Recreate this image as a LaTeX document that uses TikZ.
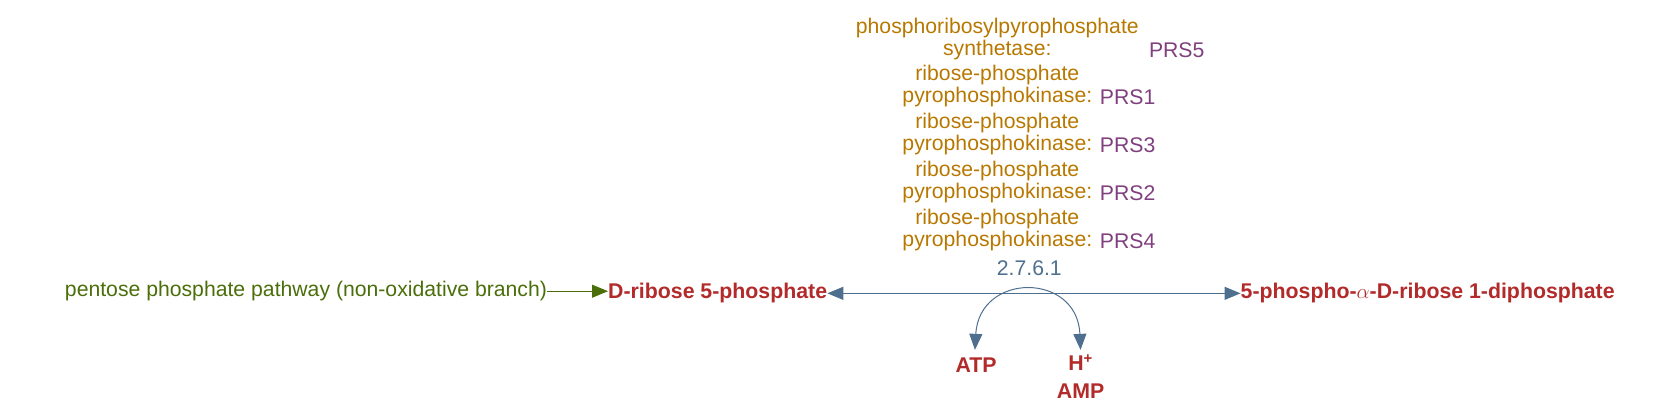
\documentclass[tikz,border=0pt]{standalone}
\usepackage{fontspec}
\setmainfont{Liberation Sans}
\usetikzlibrary{arrows.meta}
\definecolor{cred}{HTML}{B22A2A}
\definecolor{cgreen}{HTML}{4A6E0A}
\definecolor{cblue}{HTML}{4F6F8F}
\definecolor{corange}{HTML}{B87800}
\definecolor{cpurple}{HTML}{80407F}
\begin{document}
\begin{tikzpicture}[x=1.0667pt,y=-1.0667pt,
  every node/.style={inner sep=0pt,font=\fontsize{21.2}{22}\selectfont},
  met/.style={text=cred,font=\fontsize{21.3}{27}\selectfont\bfseries},
  enz/.style={text=corange,align=center},
  gene/.style={text=cpurple,anchor=west},
  tip/.style={Triangle[length=16pt,width=13pt]},
  arr/.style={-{Triangle[length=16pt,width=13pt]},color=cblue,line width=1pt}]
\useasboundingbox (0,0) rectangle (1560,384.4);
\node[text=cgreen,anchor=east] (pp) at (513,273) {pentose phosphate pathway (non-oxidative branch)};
\node[met,anchor=west] (r5p) at (570,275) {D-ribose 5-phosphate};
\node[met,anchor=west] (prpp) at (1163,275) {5-phospho-$\alpha$-D-ribose 1-diphosphate};
\draw[-{Triangle[length=16pt,width=13pt]},color=cgreen,line width=1pt] (pp.east) -- (pp.east -| r5p.west);
\draw[arr,{Triangle[length=16pt,width=13pt]}-{Triangle[length=16pt,width=13pt]}] (r5p.east) -- (prpp.west);
\node[text=cblue] (ec) at (965,251) {2.7.6.1};
\node[met] (atp) at (915,342) {ATP};
\node[met] (h) at (1013,340) {H\textsuperscript{+}};
\node[met] (amp) at (1013,367) {AMP};
\coordinate (a1) at (914,328);
\coordinate (a2) at (1013,328);
\draw[arr,{Triangle[length=16pt,width=13pt]}-{Triangle[length=16pt,width=13pt]}] (a1) .. controls (918,255) and (1010,255) .. (a2);
\node[enz] (e5) at (935,36.5) {phosphoribosylpyrophosphate\\synthetase:};
\node[gene] (g5) at (1077,47) {PRS5};
\node[enz] (e1) at (935,81) {ribose-phosphate\\pyrophosphokinase:};
\node[gene] (g1) at (1031,91) {PRS1};
\node[enz] (e3) at (935,126) {ribose-phosphate\\pyrophosphokinase:};
\node[gene] (g3) at (1031,136) {PRS3};
\node[enz] (e2) at (935,171) {ribose-phosphate\\pyrophosphokinase:};
\node[gene] (g2) at (1031,181) {PRS2};
\node[enz] (e4) at (935,216) {ribose-phosphate\\pyrophosphokinase:};
\node[gene] (g4) at (1031,226) {PRS4};
\end{tikzpicture}
\end{document}
